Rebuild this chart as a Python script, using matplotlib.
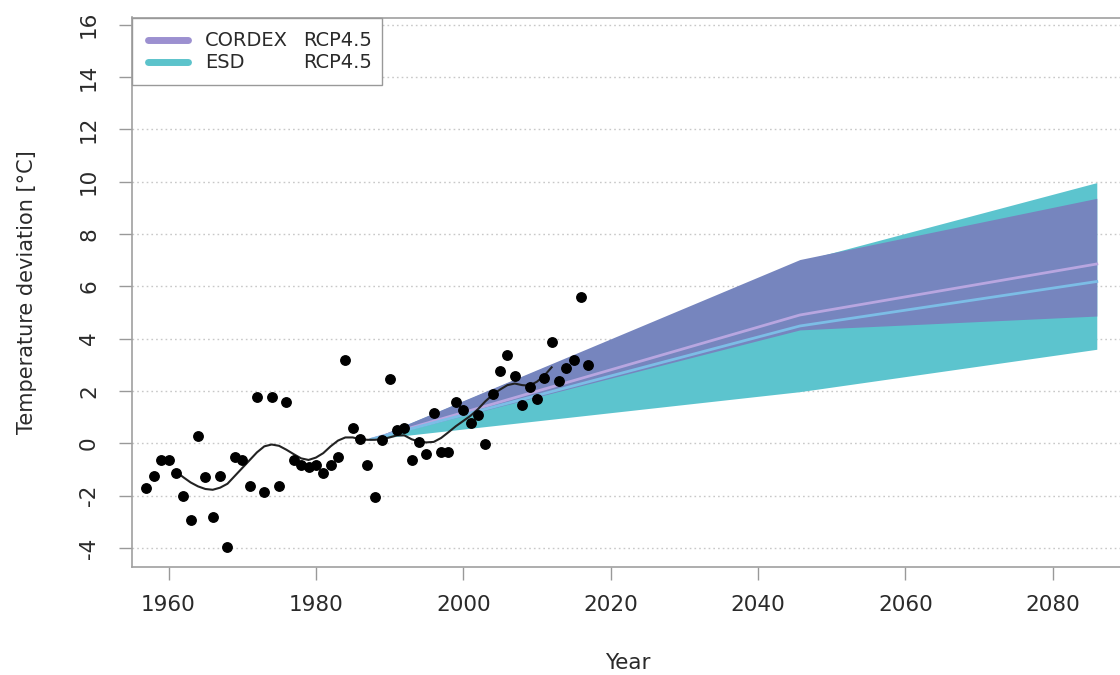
import matplotlib
matplotlib.use("Agg")
import matplotlib.pyplot as plt
from matplotlib.lines import Line2D
from matplotlib.patches import Rectangle

plt.rcParams['font.family'] = ['DejaVu Sans']

# Observed annual temperature deviations
obs_years = list(range(1957, 2018))
obs_values = [-1.73, -1.24, -0.63, -0.63, -1.12, -2.03, -2.94, 0.27, -1.31, -2.83,
              -1.24, -3.95, -0.52, -0.63, -1.62, 1.77, -1.85, 1.77, -1.62, 1.58,
              -0.63, -0.83, -0.91, -0.83, -1.15, -0.83, -0.52, 3.17, 0.57, 0.16,
              -0.83, -2.04, 0.11, 2.46, 0.50, 0.58, -0.63, 0.06, -0.42, 1.17,
              -0.32, -0.32, 1.59, 1.27, 0.76, 1.08, -0.03, 1.88, 2.77, 3.37,
              2.57, 1.46, 2.16, 1.68, 2.48, 3.88, 2.38, 2.87, 3.18, 5.58, 2.97]

# Smoothed observed curve
smooth_years = list(range(1961, 2013))
smooth_values = [-1.08, -1.30, -1.50, -1.65, -1.75, -1.78, -1.70, -1.55, -1.25, -0.95,
                 -0.65, -0.35, -0.12, -0.05, -0.10, -0.25, -0.42, -0.58, -0.64, -0.55,
                 -0.38, -0.12, 0.10, 0.22, 0.22, 0.15, 0.13, 0.13, 0.15, 0.22,
                 0.30, 0.30, 0.15, 0.06, 0.03, 0.05, 0.20, 0.42, 0.65, 0.85,
                 1.05, 1.30, 1.60, 1.85, 2.05, 2.22, 2.28, 2.22, 2.20, 2.35,
                 2.58, 2.90]

# Projection envelopes
proj_years = [1987.5, 2045.7, 2086.0]
esd_low = [0.15, 1.97, 3.59]
esd_high = [0.15, 6.95, 9.96]
esd_med = [0.15, 4.48, 6.18]
cordex_low = [0.15, 4.33, 4.86]
cordex_high = [0.15, 7.02, 9.36]
cordex_med = [0.15, 4.90, 6.85]

x_ticks = [1960, 1980, 2000, 2020, 2040, 2060, 2080]
y_ticks = [-4, -2, 0, 2, 4, 6, 8, 10, 12, 14, 16]
legend_names = ["CORDEX", "ESD"]
legend_scen = ["RCP4.5", "RCP4.5"]

W, H = 1120, 675
fig = plt.figure(figsize=(W / 100, H / 100), dpi=100)
left, right, top, bottom = 131.7, 1141.0, 17.5, 566.7
ax = fig.add_axes([left / W, 1 - bottom / H, (right - left) / W, (bottom - top) / H])
ax.set_xlim(1955.0, 2092.0)
ax.set_ylim(-4.72, 16.27)

c_esd = "#5cc4ce"
c_cordex = "#7685be"
c_esd_med = "#7cbde6"
c_cordex_med = "#b8a6e0"

for yv in y_ticks:
    ax.axhline(yv, color="#c8c8c8", lw=1.0, ls=(0, (1.2, 2.2)), zorder=0)

ax.fill_between(proj_years, esd_low, esd_high, color=c_esd, lw=0, zorder=1)
ax.fill_between(proj_years, cordex_low, cordex_high, color=c_cordex, lw=0, zorder=2)
ax.plot(proj_years, cordex_med, color=c_cordex_med, lw=2.0, zorder=3)
ax.plot(proj_years, esd_med, color=c_esd_med, lw=2.0, zorder=3)
ax.plot(smooth_years, smooth_values, color="#222222", lw=1.5, zorder=4)
ax.plot(obs_years, obs_values, 'o', color="black", ms=6.8, zorder=5)

ax.set_xticks(x_ticks)
ax.set_yticks(y_ticks)
ax.set_xticklabels([str(v) for v in x_ticks])
ax.set_yticklabels([str(v) for v in y_ticks], rotation=90, va="center")
ax.tick_params(axis="both", direction="out", length=9.5, width=1.0, color="#999999",
               labelsize=15.5, labelcolor="#2a2a2a")
ax.tick_params(axis="x", pad=11)
ax.tick_params(axis="y", pad=14)
for s in ["left", "bottom", "top", "right"]:
    ax.spines[s].set_color("#a0a0a0")
    ax.spines[s].set_linewidth(1.2)

fig.text(628 / W, 1 - 663 / H, "Year", ha="center", va="center", fontsize=15.5, color="#2a2a2a")
fig.text(27 / W, 1 - 292 / H, "Temperature deviation [°C]", ha="center", va="center",
         rotation=90, fontsize=15, color="#2a2a2a")

# Legend box (figure pixel coords)
def fx(px):
    return px / W

def fy(py):
    return 1 - py / H

fig.add_artist(Rectangle((fx(131.7), fy(85)), (381.7 - 131.7) / W, (85 - 18.3) / H,
                         transform=fig.transFigure, facecolor="white", edgecolor="#999999",
                         lw=1.0, zorder=10))
leg_colors = ["#9c90d0", "#5cc3cb"]
for i, (nm, sc, col) in enumerate(zip(legend_names, legend_scen, leg_colors)):
    yy = 40 + 22 * i
    fig.add_artist(Line2D([fx(148), fx(188)], [fy(yy), fy(yy)], transform=fig.transFigure,
                          color=col, lw=5, solid_capstyle="round", zorder=11))
    fig.text(fx(205), fy(yy), nm, ha="left", va="center", fontsize=14, color="#2a2a2a", zorder=12)
    fig.text(fx(372), fy(yy), sc, ha="right", va="center", fontsize=14, color="#2a2a2a", zorder=12)

fig.savefig("out.png", dpi=100)
